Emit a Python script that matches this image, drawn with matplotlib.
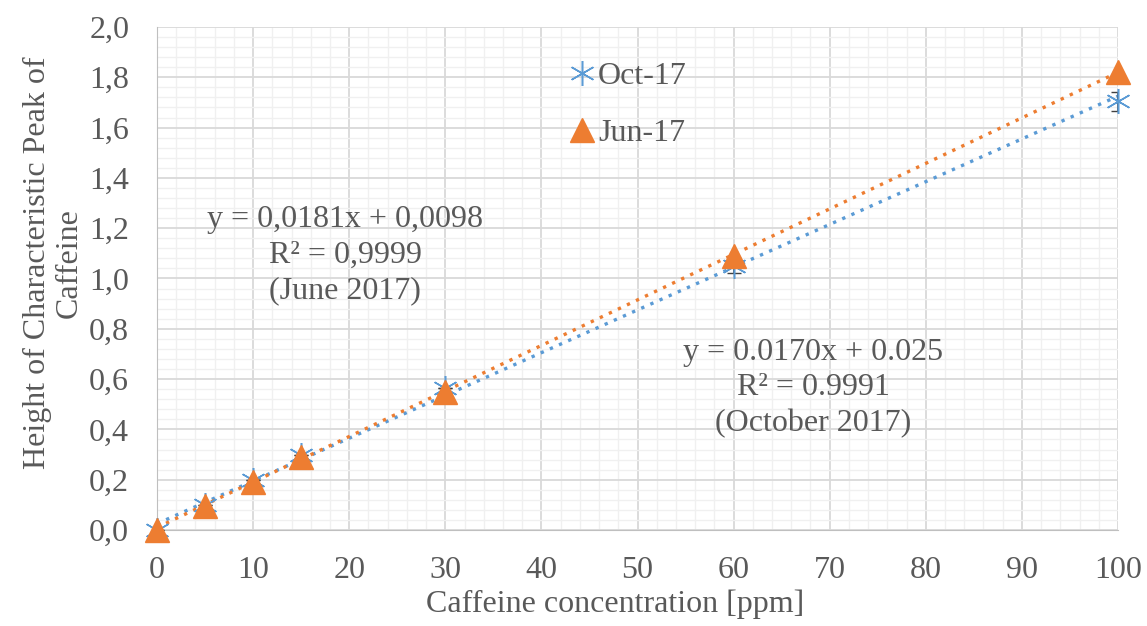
import matplotlib.pyplot as plt
import numpy as np
from matplotlib.ticker import MultipleLocator, FuncFormatter

# data
conc = [0, 5, 10, 15, 30, 60, 100]
height_oct = [0.0, 0.10, 0.20, 0.30, 0.565, 1.05, 1.705]
err_oct = [0.0, 0.0, 0.0, 0.0, 0.0, 0.03, 0.038]
height_jun = [0.0, 0.095, 0.19, 0.29, 0.55, 1.09, 1.82]

# trendline coefficients as printed on the chart
fit_oct = (0.0170, 0.025)
fit_jun = (0.0181, 0.0098)

blue = '#5B9BD5'
orange = '#ED7D31'
txt = '#595959'
fs = 23

plt.rcParams['font.family'] = ['Liberation Serif', 'DejaVu Serif']
plt.rcParams['font.size'] = fs

fig = plt.figure(figsize=(11.47, 6.26), dpi=100)
ax = fig.add_axes([157 / 1147, 1 - 530 / 626, (1118 - 157) / 1147, (530 - 27) / 626])

xs = np.array([0, 100])
ax.plot(xs, fit_oct[0] * xs + fit_oct[1], ls=(0, (1, 2)), lw=2.4, color=blue, zorder=3)
ax.plot(xs, fit_jun[0] * xs + fit_jun[1], ls=(0, (1, 2)), lw=2.4, color=orange, zorder=3)

ax.errorbar(conc, height_oct, yerr=err_oct, fmt='none', ecolor='#404040', elinewidth=1.2, capsize=5, zorder=4)
ax.plot(conc, height_oct, ls='none', marker=(6, 2, 0), ms=18, mew=1.1, color=blue, label='Oct-17',
        zorder=5, clip_on=False)
ax.plot(conc, height_jun, ls='none', marker='^', ms=17, color=orange, label='Jun-17', zorder=6,
        clip_on=False)

ax.set_xlim(0, 100)
ax.set_ylim(0, 2.0)
ax.xaxis.set_major_locator(MultipleLocator(10))
ax.xaxis.set_minor_locator(MultipleLocator(2))
ax.yaxis.set_major_locator(MultipleLocator(0.2))
ax.yaxis.set_minor_locator(MultipleLocator(0.04))
ax.yaxis.set_major_formatter(FuncFormatter(lambda v, p: f'{v:.1f}'.replace('.', ',')))
ax.grid(which='major', color='#D9D9D9', lw=1.3, zorder=0)
ax.grid(which='minor', color='#F0F0F0', lw=1.0, zorder=0)
ax.set_axisbelow(True)
for s in ['top', 'right']:
    ax.spines[s].set_visible(False)
for s in ['left', 'bottom']:
    ax.spines[s].set_color('#BFBFBF')
ax.tick_params(which='both', length=0, colors=txt, labelsize=fs)
ax.tick_params(axis='y', pad=20)
ax.tick_params(axis='x', pad=19)

ax.set_xlabel('Caffeine concentration [ppm]', color=txt, fontsize=fs, labelpad=3)
ax.set_ylabel('Height of Characteristic Peak of\nCaffeine', color=txt, fontsize=fs, labelpad=4,
              linespacing=1.1)
ax.xaxis.label.set_x(0.477)
ax.yaxis.label.set_y(0.531)

ax.text(19.6, 1.093, 'y = 0,0181x + 0,0098\nR² = 0,9999\n(June 2017)', ha='center', va='center',
        color=txt, fontsize=fs, linespacing=1.3)
ax.text(68.3, 0.565, 'y = 0.0170x + 0.025\nR² = 0.9991\n(October 2017)', ha='center', va='center',
        color=txt, fontsize=fs, linespacing=1.3)

ax.legend(loc='center left', bbox_to_anchor=(0.409, 0.845), frameon=False, fontsize=fs,
          labelcolor=txt, handletextpad=0.0, labelspacing=0.85, handlelength=1.0, borderpad=0)

fig.savefig('out.png', dpi=100)
